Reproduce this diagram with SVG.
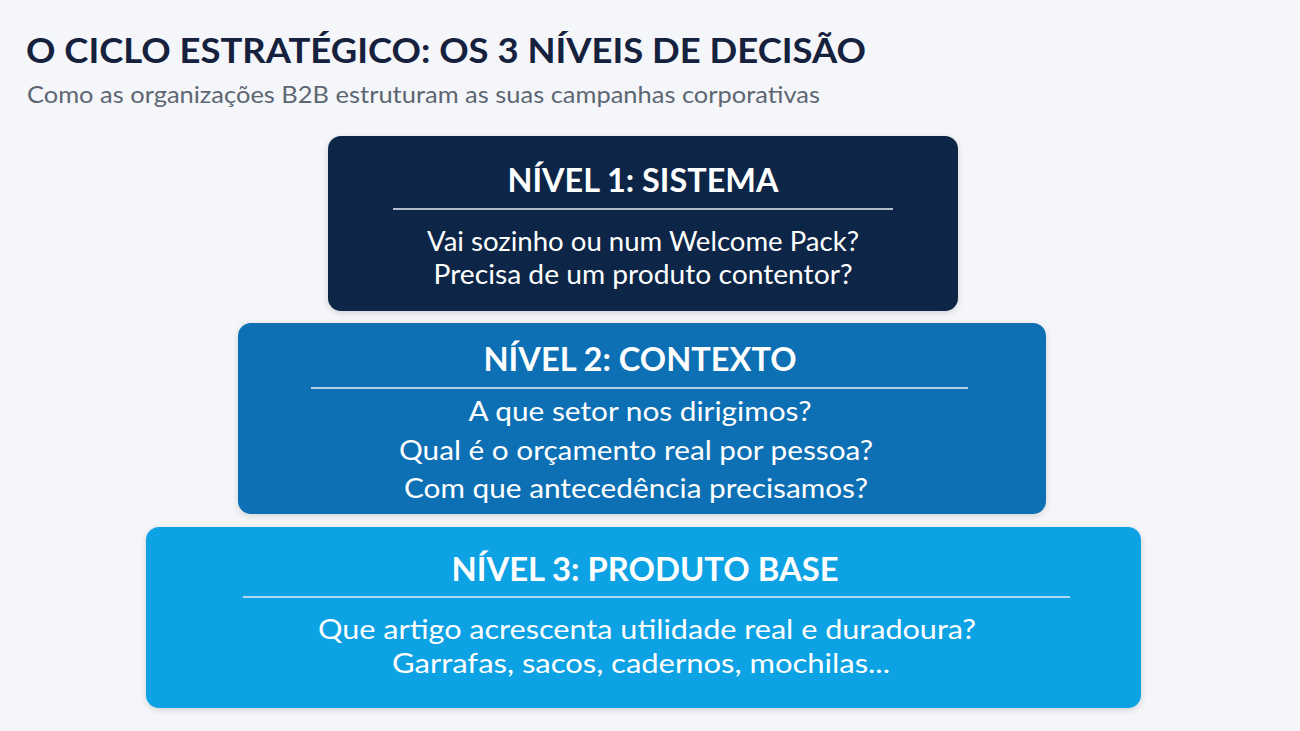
<svg xmlns="http://www.w3.org/2000/svg" width="1300" height="731" viewBox="0 0 1300 731">
<defs>
<filter id="sh" x="-5%" y="-10%" width="110%" height="130%">
<feDropShadow dx="0" dy="2" stdDeviation="3" flood-color="#000" flood-opacity="0.15"/>
</filter>
<style>
.t{font-family:Lato,"Open Sans",sans-serif;font-weight:700;fill:#fff;text-anchor:middle}
.b{font-family:Lato,"Open Sans",sans-serif;font-weight:400;fill:#fff;text-anchor:middle}
.ln{stroke:#e8eef5;stroke-width:1.6}
</style>
</defs>
<rect width="1300" height="731" fill="#f4f6f9"/>
<g id="header">
<text x="26" y="63" font-family="Lato,'Open Sans',sans-serif" font-weight="700" font-size="35" fill="#15213d" textLength="840" lengthAdjust="spacingAndGlyphs">O CICLO ESTRATÉGICO: OS 3 NÍVEIS DE DECISÃO</text>
<text x="27" y="103" font-family="Lato,'Open Sans',sans-serif" font-size="24" fill="#5d6673" textLength="793" lengthAdjust="spacingAndGlyphs">Como as organizações B2B estruturam as suas campanhas corporativas</text>
</g>
<g id="nivel1">
<rect x="328" y="136" width="630" height="175" rx="13" fill="#0f2546" filter="url(#sh)"/>
<text class="t" x="643" y="192" font-size="33" textLength="271" lengthAdjust="spacingAndGlyphs">NÍVEL 1: SISTEMA</text>
<line class="ln" x1="393" y1="209" x2="893" y2="209"/>
<text class="b" x="643" y="251" font-size="26" textLength="432" lengthAdjust="spacingAndGlyphs">Vai sozinho ou num Welcome Pack?</text>
<text class="b" x="643" y="284" font-size="26" textLength="419" lengthAdjust="spacingAndGlyphs">Precisa de um produto contentor?</text>
</g>
<g id="nivel2">
<rect x="238" y="323" width="808" height="191" rx="13" fill="#1170b5" filter="url(#sh)"/>
<text class="t" x="640" y="371" font-size="33" textLength="313" lengthAdjust="spacingAndGlyphs">NÍVEL 2: CONTEXTO</text>
<line class="ln" x1="311" y1="388" x2="968" y2="388"/>
<text class="b" x="640" y="421" font-size="26" textLength="343" lengthAdjust="spacingAndGlyphs">A que setor nos dirigimos?</text>
<text class="b" x="636" y="460" font-size="26" textLength="474" lengthAdjust="spacingAndGlyphs">Qual é o orçamento real por pessoa?</text>
<text class="b" x="636" y="498" font-size="26" textLength="464" lengthAdjust="spacingAndGlyphs">Com que antecedência precisamos?</text>
</g>
<g id="nivel3">
<rect x="146" y="527" width="995" height="181" rx="13" fill="#0aa2e4" filter="url(#sh)"/>
<text class="t" x="645" y="581" font-size="33" textLength="387" lengthAdjust="spacingAndGlyphs">NÍVEL 3: PRODUTO BASE</text>
<line class="ln" x1="243" y1="597" x2="1070" y2="597"/>
<text class="b" x="647" y="639" font-size="26" textLength="658" lengthAdjust="spacingAndGlyphs">Que artigo acrescenta utilidade real e duradoura?</text>
<text class="b" x="641" y="673" font-size="26" textLength="498" lengthAdjust="spacingAndGlyphs">Garrafas, sacos, cadernos, mochilas...</text>
</g>
<g id="connectors"/>
</svg>
